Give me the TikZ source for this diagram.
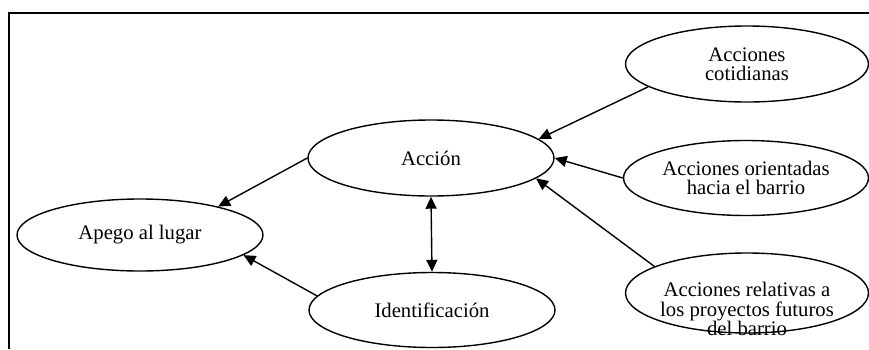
\documentclass[tikz,border=0pt]{standalone}
\usepackage{fontspec}
\setmainfont{Liberation Serif}
\usetikzlibrary{shapes.geometric,arrows.meta,positioning}

\begin{document}
\begin{tikzpicture}[x=0.5pt, y=-0.5pt, >={Triangle[length=6pt,width=5.5pt]},
        oval/.style={ellipse, draw, line width=0.7pt, inner sep=0pt, minimum width=123pt, minimum height=38pt, align=center, font=\fontsize{10.35}{9.75}\selectfont},
        txt/.style={align=center, inner sep=0pt, font=\fontsize{10.35}{9.6}\selectfont},
        line/.style={draw, line width=0.7pt, ->}]

        \useasboundingbox (0,0) rectangle (869,349);
        % frame
        \draw [line width=1pt] (9,349) -- (9,13) -- (869,13);

        \node [oval, minimum height=36pt] (apego) at (140,235) {Apego al lugar};
        \node [oval] (accion) at (431,158) {Acción};
        \node [oval, minimum height=37.5pt] (ident) at (432,310) {Identificación};

        \node [oval, minimum width=121.5pt] (cot) at (747,64) {Acciones\\cotidianas};
        \node [oval, minimum width=122.5pt, minimum height=37.5pt] (orient) at (746,178) {Acciones orientadas\\hacia el barrio};
        \node [oval, minimum width=121.5pt, minimum height=40pt] (relat) at (747,293) {};
        \node [txt] (relattext) at ([yshift=-8pt]relat.center) {Acciones relativas a\\los proyectos futuros\\del barrio};

        \path [line] (accion.180) -- (apego.20);
        \path [line] (ident.173) -- (apego.349);
        \draw [line, <->] (accion.south) -- (ident.north);

        \path [line] (cot.193) -- (accion.10);
        \path [line] (orient.west) -- (accion.east);
        \path [line] (relat.164) -- (accion.349);

\end{tikzpicture}
\end{document}
